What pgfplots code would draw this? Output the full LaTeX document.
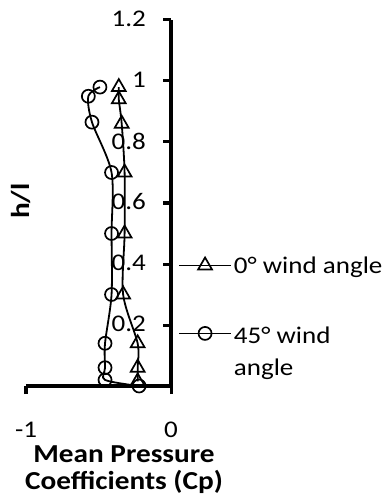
\documentclass[border=0pt]{standalone}
\usepackage{fontspec}
\setmainfont{Carlito}[FakeStretch=1.13]
\usepackage{pgfplots}
\pgfplotsset{compat=1.18}
\begin{document}
\begin{tikzpicture}
\useasboundingbox (-26bp,-111bp) rectangle (356bp,386bp);
\begin{axis}[
  scale only axis, width=145bp, height=366bp,
  xmin=-1, xmax=0, ymin=0, ymax=1.2,
  axis x line=bottom, axis y line=right,
  axis line style={-, line width=4.5bp, black},
  xtick={-1,0}, ytick={0.2,0.4,0.6,0.8,1,1.2},
  tick align=inside, major tick length=8bp,
  tick style={line width=3bp, black},
  xtick style={yshift=-8bp},
  /pgf/number format/assume math mode=true,
  ticklabel style={font=\fontsize{24}{28}\selectfont, inner sep=0pt},
  x tick label style={anchor=center, yshift=-44bp},
  y tick label style={anchor=east, xshift=-25bp, yshift=1bp},
  ylabel={h/l},
  ylabel style={at={(rel axis cs:-0.034,0.505)}, anchor=center, font=\bfseries\fontsize{26}{28}\selectfont},
  xlabel={Mean Pressure\\Coefficients (Cp)},
  xlabel style={at={(rel axis cs:0.676,-0.228)}, anchor=center, align=center, font=\bfseries\fontsize{26}{27}\selectfont},
  clip=false,
  legend cell align=left,
  legend style={at={(rel axis cs:1.048,0.36)}, anchor=north west, draw=none, fill=none, inner sep=0pt,
    font=\fontsize{24}{32}\selectfont, row sep=43bp},
  legend image code/.code={\draw[mark repeat=2,mark phase=2,#1] plot coordinates {(0bp,0bp) (26bp,0bp) (52bp,0bp)};},
]
\addplot[black, line width=1.8bp, smooth, tension=0.5, mark=triangle, mark size=8bp, mark options={solid, line width=1.7bp}]
  coordinates {(-0.36,0.98) (-0.36,0.94) (-0.34,0.86) (-0.32,0.70) (-0.32,0.50) (-0.33,0.30) (-0.23,0.14) (-0.23,0.06) (-0.23,0.015)};
\addlegendentry{0° wind angle}
\addplot[black, line width=1.8bp, smooth, tension=0.5, mark=o, mark size=6.5bp, mark options={solid, line width=1.7bp}]
  coordinates {(-0.49,0.98) (-0.57,0.95) (-0.545,0.865) (-0.41,0.70) (-0.41,0.50) (-0.41,0.30) (-0.455,0.14) (-0.455,0.06) (-0.455,0.02) (-0.22,0.0)};
\addlegendentry{\begin{tabular}[t]{@{}l@{}}45° wind\\angle\end{tabular}}
\end{axis}
\end{tikzpicture}
\end{document}
